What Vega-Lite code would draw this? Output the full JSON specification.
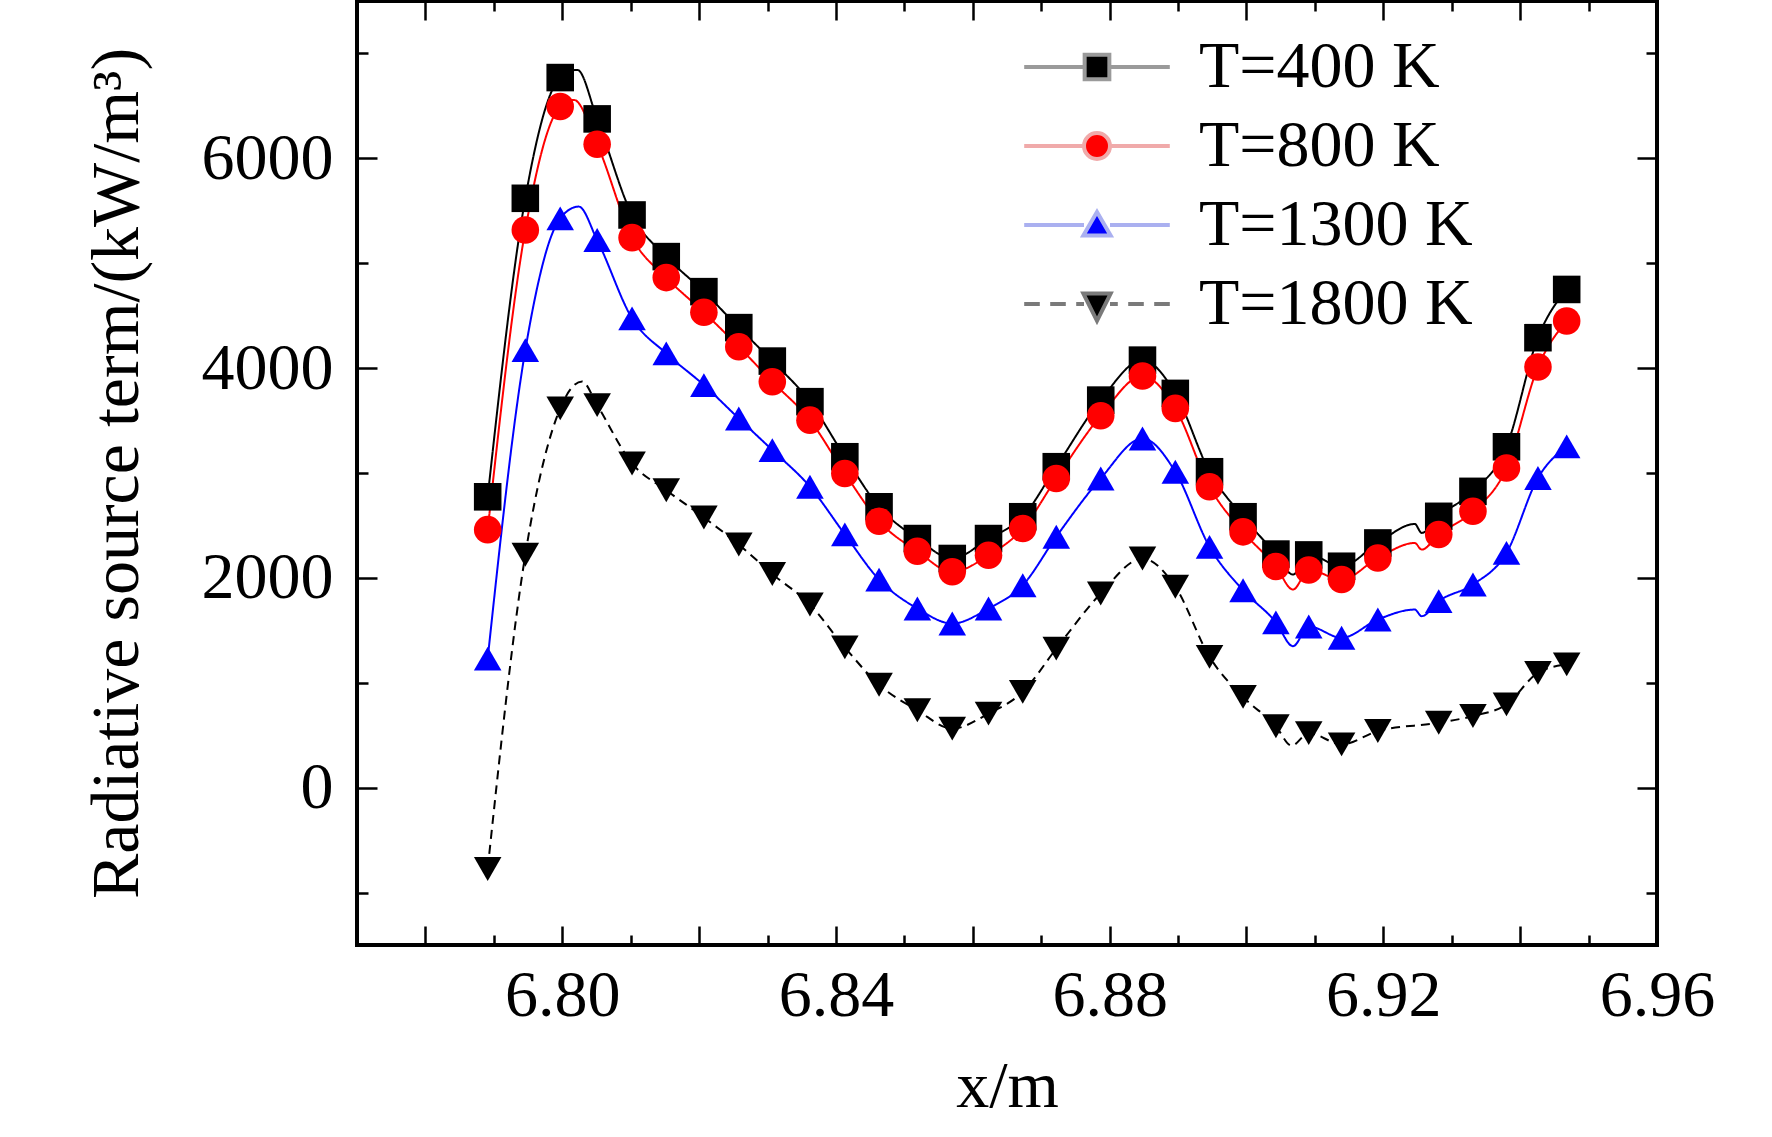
{
  "$schema": "https://vega.github.io/schema/vega-lite/v6.json",
  "width": 1300,
  "height": 944,
  "autosize": {"type": "none"},
  "padding": {"left": 357, "top": 1, "right": 115, "bottom": 192},
  "background": "white",
  "datasets": {
    "src": [
      {"s": "T=400 K", "x": 6.7891, "y": 2773, "k": "m"},
      {"s": "T=400 K", "x": 6.7946, "y": 5619, "k": "m"},
      {"s": "T=400 K", "x": 6.7997, "y": 6770, "k": "m"},
      {"s": "T=400 K", "x": 6.8022, "y": 6843, "k": "c"},
      {"s": "T=400 K", "x": 6.8051, "y": 6376, "k": "m"},
      {"s": "T=400 K", "x": 6.8102, "y": 5460, "k": "m"},
      {"s": "T=400 K", "x": 6.8152, "y": 5063, "k": "m"},
      {"s": "T=400 K", "x": 6.8207, "y": 4729, "k": "m"},
      {"s": "T=400 K", "x": 6.8258, "y": 4386, "k": "m"},
      {"s": "T=400 K", "x": 6.8307, "y": 4067, "k": "m"},
      {"s": "T=400 K", "x": 6.8362, "y": 3680, "k": "m"},
      {"s": "T=400 K", "x": 6.8413, "y": 3155, "k": "m"},
      {"s": "T=400 K", "x": 6.8463, "y": 2678, "k": "m"},
      {"s": "T=400 K", "x": 6.8519, "y": 2375, "k": "m"},
      {"s": "T=400 K", "x": 6.8570, "y": 2185, "k": "m"},
      {"s": "T=400 K", "x": 6.8623, "y": 2375, "k": "m"},
      {"s": "T=400 K", "x": 6.8673, "y": 2583, "k": "m"},
      {"s": "T=400 K", "x": 6.8722, "y": 3060, "k": "m"},
      {"s": "T=400 K", "x": 6.8787, "y": 3695, "k": "m"},
      {"s": "T=400 K", "x": 6.8848, "y": 4076, "k": "m"},
      {"s": "T=400 K", "x": 6.8896, "y": 3759, "k": "m"},
      {"s": "T=400 K", "x": 6.8946, "y": 3012, "k": "m"},
      {"s": "T=400 K", "x": 6.8995, "y": 2583, "k": "m"},
      {"s": "T=400 K", "x": 6.9043, "y": 2227, "k": "m"},
      {"s": "T=400 K", "x": 6.9068, "y": 2032, "k": "c"},
      {"s": "T=400 K", "x": 6.9091, "y": 2219, "k": "m"},
      {"s": "T=400 K", "x": 6.9139, "y": 2111, "k": "m"},
      {"s": "T=400 K", "x": 6.9192, "y": 2333, "k": "m"},
      {"s": "T=400 K", "x": 6.9246, "y": 2514, "k": "c"},
      {"s": "T=400 K", "x": 6.9256, "y": 2429, "k": "c"},
      {"s": "T=400 K", "x": 6.9281, "y": 2587, "k": "m"},
      {"s": "T=400 K", "x": 6.9331, "y": 2825, "k": "m"},
      {"s": "T=400 K", "x": 6.9380, "y": 3250, "k": "m"},
      {"s": "T=400 K", "x": 6.9426, "y": 4290, "k": "m"},
      {"s": "T=400 K", "x": 6.9468, "y": 4750, "k": "m"},

      {"s": "T=800 K", "x": 6.7891, "y": 2460, "k": "m"},
      {"s": "T=800 K", "x": 6.7946, "y": 5317, "k": "m"},
      {"s": "T=800 K", "x": 6.7997, "y": 6494, "k": "m"},
      {"s": "T=800 K", "x": 6.8017, "y": 6557, "k": "c"},
      {"s": "T=800 K", "x": 6.8051, "y": 6134, "k": "m"},
      {"s": "T=800 K", "x": 6.8102, "y": 5244, "k": "m"},
      {"s": "T=800 K", "x": 6.8152, "y": 4863, "k": "m"},
      {"s": "T=800 K", "x": 6.8207, "y": 4532, "k": "m"},
      {"s": "T=800 K", "x": 6.8258, "y": 4204, "k": "m"},
      {"s": "T=800 K", "x": 6.8307, "y": 3870, "k": "m"},
      {"s": "T=800 K", "x": 6.8362, "y": 3504, "k": "m"},
      {"s": "T=800 K", "x": 6.8413, "y": 2996, "k": "m"},
      {"s": "T=800 K", "x": 6.8463, "y": 2540, "k": "m"},
      {"s": "T=800 K", "x": 6.8519, "y": 2254, "k": "m"},
      {"s": "T=800 K", "x": 6.8570, "y": 2058, "k": "m"},
      {"s": "T=800 K", "x": 6.8623, "y": 2216, "k": "m"},
      {"s": "T=800 K", "x": 6.8673, "y": 2471, "k": "m"},
      {"s": "T=800 K", "x": 6.8722, "y": 2948, "k": "m"},
      {"s": "T=800 K", "x": 6.8787, "y": 3546, "k": "m"},
      {"s": "T=800 K", "x": 6.8848, "y": 3924, "k": "m"},
      {"s": "T=800 K", "x": 6.8896, "y": 3616, "k": "m"},
      {"s": "T=800 K", "x": 6.8946, "y": 2869, "k": "m"},
      {"s": "T=800 K", "x": 6.8995, "y": 2439, "k": "m"},
      {"s": "T=800 K", "x": 6.9043, "y": 2108, "k": "m"},
      {"s": "T=800 K", "x": 6.9068, "y": 1889, "k": "c"},
      {"s": "T=800 K", "x": 6.9091, "y": 2076, "k": "m"},
      {"s": "T=800 K", "x": 6.9139, "y": 1984, "k": "m"},
      {"s": "T=800 K", "x": 6.9192, "y": 2190, "k": "m"},
      {"s": "T=800 K", "x": 6.9246, "y": 2333, "k": "c"},
      {"s": "T=800 K", "x": 6.9256, "y": 2270, "k": "c"},
      {"s": "T=800 K", "x": 6.9281, "y": 2413, "k": "m"},
      {"s": "T=800 K", "x": 6.9331, "y": 2635, "k": "m"},
      {"s": "T=800 K", "x": 6.9380, "y": 3048, "k": "m"},
      {"s": "T=800 K", "x": 6.9426, "y": 4010, "k": "m"},
      {"s": "T=800 K", "x": 6.9468, "y": 4450, "k": "m"},

      {"s": "T=1300 K", "x": 6.7891, "y": 1230, "k": "m"},
      {"s": "T=1300 K", "x": 6.7946, "y": 4172, "k": "m"},
      {"s": "T=1300 K", "x": 6.7997, "y": 5428, "k": "m"},
      {"s": "T=1300 K", "x": 6.8024, "y": 5540, "k": "c"},
      {"s": "T=1300 K", "x": 6.8051, "y": 5221, "k": "m"},
      {"s": "T=1300 K", "x": 6.8102, "y": 4474, "k": "m"},
      {"s": "T=1300 K", "x": 6.8152, "y": 4140, "k": "m"},
      {"s": "T=1300 K", "x": 6.8207, "y": 3838, "k": "m"},
      {"s": "T=1300 K", "x": 6.8258, "y": 3520, "k": "m"},
      {"s": "T=1300 K", "x": 6.8307, "y": 3218, "k": "m"},
      {"s": "T=1300 K", "x": 6.8362, "y": 2869, "k": "m"},
      {"s": "T=1300 K", "x": 6.8413, "y": 2415, "k": "m"},
      {"s": "T=1300 K", "x": 6.8463, "y": 1984, "k": "m"},
      {"s": "T=1300 K", "x": 6.8519, "y": 1708, "k": "m"},
      {"s": "T=1300 K", "x": 6.8570, "y": 1565, "k": "m"},
      {"s": "T=1300 K", "x": 6.8623, "y": 1708, "k": "m"},
      {"s": "T=1300 K", "x": 6.8673, "y": 1930, "k": "m"},
      {"s": "T=1300 K", "x": 6.8722, "y": 2392, "k": "m"},
      {"s": "T=1300 K", "x": 6.8787, "y": 2948, "k": "m"},
      {"s": "T=1300 K", "x": 6.8848, "y": 3329, "k": "m"},
      {"s": "T=1300 K", "x": 6.8896, "y": 3012, "k": "m"},
      {"s": "T=1300 K", "x": 6.8946, "y": 2296, "k": "m"},
      {"s": "T=1300 K", "x": 6.8995, "y": 1882, "k": "m"},
      {"s": "T=1300 K", "x": 6.9043, "y": 1576, "k": "m"},
      {"s": "T=1300 K", "x": 6.9068, "y": 1349, "k": "c"},
      {"s": "T=1300 K", "x": 6.9091, "y": 1537, "k": "m"},
      {"s": "T=1300 K", "x": 6.9139, "y": 1429, "k": "m"},
      {"s": "T=1300 K", "x": 6.9192, "y": 1603, "k": "m"},
      {"s": "T=1300 K", "x": 6.9246, "y": 1698, "k": "c"},
      {"s": "T=1300 K", "x": 6.9256, "y": 1635, "k": "c"},
      {"s": "T=1300 K", "x": 6.9281, "y": 1778, "k": "m"},
      {"s": "T=1300 K", "x": 6.9331, "y": 1937, "k": "m"},
      {"s": "T=1300 K", "x": 6.9380, "y": 2238, "k": "m"},
      {"s": "T=1300 K", "x": 6.9426, "y": 2952, "k": "m"},
      {"s": "T=1300 K", "x": 6.9468, "y": 3254, "k": "m"},

      {"s": "T=1800 K", "x": 6.7891, "y": -775, "k": "m"},
      {"s": "T=1800 K", "x": 6.7946, "y": 2221, "k": "m"},
      {"s": "T=1800 K", "x": 6.7997, "y": 3616, "k": "m"},
      {"s": "T=1800 K", "x": 6.8029, "y": 3873, "k": "c"},
      {"s": "T=1800 K", "x": 6.8051, "y": 3647, "k": "m"},
      {"s": "T=1800 K", "x": 6.8102, "y": 3091, "k": "m"},
      {"s": "T=1800 K", "x": 6.8152, "y": 2836, "k": "m"},
      {"s": "T=1800 K", "x": 6.8207, "y": 2576, "k": "m"},
      {"s": "T=1800 K", "x": 6.8258, "y": 2318, "k": "m"},
      {"s": "T=1800 K", "x": 6.8307, "y": 2037, "k": "m"},
      {"s": "T=1800 K", "x": 6.8362, "y": 1746, "k": "m"},
      {"s": "T=1800 K", "x": 6.8413, "y": 1337, "k": "m"},
      {"s": "T=1800 K", "x": 6.8463, "y": 981, "k": "m"},
      {"s": "T=1800 K", "x": 6.8519, "y": 738, "k": "m"},
      {"s": "T=1800 K", "x": 6.8570, "y": 563, "k": "m"},
      {"s": "T=1800 K", "x": 6.8623, "y": 706, "k": "m"},
      {"s": "T=1800 K", "x": 6.8673, "y": 913, "k": "m"},
      {"s": "T=1800 K", "x": 6.8722, "y": 1326, "k": "m"},
      {"s": "T=1800 K", "x": 6.8787, "y": 1851, "k": "m"},
      {"s": "T=1800 K", "x": 6.8848, "y": 2185, "k": "m"},
      {"s": "T=1800 K", "x": 6.8896, "y": 1915, "k": "m"},
      {"s": "T=1800 K", "x": 6.8946, "y": 1247, "k": "m"},
      {"s": "T=1800 K", "x": 6.8995, "y": 865, "k": "m"},
      {"s": "T=1800 K", "x": 6.9043, "y": 585, "k": "m"},
      {"s": "T=1800 K", "x": 6.9066, "y": 400, "k": "c"},
      {"s": "T=1800 K", "x": 6.9091, "y": 520, "k": "m"},
      {"s": "T=1800 K", "x": 6.9139, "y": 413, "k": "m"},
      {"s": "T=1800 K", "x": 6.9192, "y": 540, "k": "m"},
      {"s": "T=1800 K", "x": 6.9281, "y": 619, "k": "m"},
      {"s": "T=1800 K", "x": 6.9331, "y": 683, "k": "m"},
      {"s": "T=1800 K", "x": 6.9380, "y": 794, "k": "m"},
      {"s": "T=1800 K", "x": 6.9426, "y": 1095, "k": "m"},
      {"s": "T=1800 K", "x": 6.9468, "y": 1175, "k": "m"}
    ]
  },
  "data": {"name": "src"},
  "resolve": {"axis": {"x": "independent", "y": "independent"}},
  "layer": [
    {
      "mark": {"type": "line", "interpolate": "monotone", "strokeWidth": 2},
      "encoding": {
        "x": {
          "field": "x", "type": "quantitative",
          "scale": {"domain": [6.77, 6.96], "nice": false, "zero": false},
          "axis": {"orient": "bottom", "values": [6.80, 6.84, 6.88, 6.92, 6.96], "format": ".2f",
                   "ticks": false, "labelPadding": 18, "labelFontSize": 66,
                   "title": "x/m", "titleFontSize": 66, "titlePadding": 26}
        },
        "y": {
          "field": "y", "type": "quantitative",
          "scale": {"domain": [-1500, 7500], "nice": false, "zero": false},
          "axis": {"orient": "left", "values": [0, 2000, 4000, 6000], "format": "d",
                   "ticks": false, "labelPadding": 24, "labelFontSize": 66,
                   "title": "Radiative source term/(kW/m³)", "titleFontSize": 68, "titlePadding": 50}
        },
        "stroke": {
          "field": "s", "type": "nominal",
          "scale": {"domain": ["T=1800 K", "T=1300 K", "T=800 K", "T=400 K"],
                    "range": ["#000000", "#0000ff", "#ff0000", "#000000"]},
          "legend": null
        },
        "strokeDash": {
          "field": "s", "type": "nominal",
          "scale": {"domain": ["T=1800 K", "T=1300 K", "T=800 K", "T=400 K"],
                    "range": [[9, 6], [1, 0], [1, 0], [1, 0]]},
          "legend": null
        }
      }
    },
    {
      "transform": [{"filter": "datum.k == 'm'"}],
      "mark": {"type": "point", "filled": true, "opacity": 1},
      "encoding": {
        "x": {
          "field": "x", "type": "quantitative",
          "scale": {"domain": [6.77, 6.96], "nice": false, "zero": false},
          "axis": {"orient": "bottom", "values": [6.78, 6.80, 6.82, 6.84, 6.86, 6.88, 6.90, 6.92, 6.94],
                   "labels": false, "ticks": true, "tickSize": -19, "title": null}
        },
        "y": {
          "field": "y", "type": "quantitative",
          "scale": {"domain": [-1500, 7500], "nice": false, "zero": false},
          "axis": {"orient": "left", "values": [0, 2000, 4000, 6000],
                   "labels": false, "ticks": true, "tickSize": -20, "title": null}
        },
        "color": {
          "field": "s", "type": "nominal",
          "scale": {"domain": ["T=400 K", "T=800 K", "T=1300 K", "T=1800 K"],
                    "range": ["#000000", "#ff0000", "#0000ff", "#000000"]},
          "legend": {
            "title": null, "orient": "none", "legendX": 707, "legendY": 33, "direction": "vertical",
            "padding": 0, "symbolSize": 676, "symbolStrokeWidth": 4, "labelOffset": 69, "rowPadding": 13,
            "labelFont": "Liberation Serif", "labelFontSize": 66, "labelColor": "black", "labelLimit": 0,
            "symbolType": {"expr": "datum.value == 'T=400 K' ? 'M-5.6,0H-0.95M0.95,0H5.6M-0.95,-0.95H0.95V0.95H-0.95Z' : datum.value == 'T=800 K' ? 'M-5.6,0H-1M1,0H5.6M1,0A1,1,0,1,1,-1,0A1,1,0,1,1,1,0Z' : datum.value == 'T=1300 K' ? 'M-5.6,0H-1M1,0H5.6M0,-1L1.05,0.8L-1.05,0.8Z' : 'M-5.6,0H-4.4M-3.6,0H-2.4M-1.6,0H-1M1,0H1.6M2.4,0H3.6M4.4,0H5.6M-1.05,-0.8L1.05,-0.8L0,1.3Z'"},
            "symbolStrokeColor": {"expr": "datum.value == 'T=400 K' ? '#9a9a9a' : datum.value == 'T=800 K' ? '#f0aaaa' : datum.value == 'T=1300 K' ? '#aab0f0' : '#7a7a7a'"}
          }
        },
        "shape": {
          "field": "s", "type": "nominal",
          "scale": {"domain": ["T=1800 K", "T=1300 K", "T=800 K", "T=400 K"],
                    "range": ["triangle-down", "triangle-up", "circle", "square"]},
          "legend": null
        },
        "size": {
          "field": "s", "type": "nominal",
          "scale": {"domain": ["T=1800 K", "T=1300 K", "T=800 K", "T=400 K"],
                    "range": [760, 760, 484, 484]},
          "legend": null
        }
      }
    },
    {
      "transform": [{"filter": "datum.k == 'm'"}],
      "mark": {"type": "point", "opacity": 0},
      "encoding": {
        "x": {
          "field": "x", "type": "quantitative",
          "scale": {"domain": [6.77, 6.96], "nice": false, "zero": false},
          "axis": {"orient": "bottom", "values": [6.79, 6.81, 6.83, 6.85, 6.87, 6.89, 6.91, 6.93, 6.95],
                   "labels": false, "ticks": true, "tickSize": -10, "title": null}
        },
        "y": {
          "field": "y", "type": "quantitative",
          "scale": {"domain": [-1500, 7500], "nice": false, "zero": false},
          "axis": {"orient": "left", "values": [-1000, 1000, 3000, 5000, 7000],
                   "labels": false, "ticks": true, "tickSize": -11, "title": null}
        }
      }
    },
    {
      "transform": [{"filter": "datum.k == 'm'"}],
      "mark": {"type": "point", "opacity": 0},
      "encoding": {
        "x": {
          "field": "x", "type": "quantitative",
          "scale": {"domain": [6.77, 6.96], "nice": false, "zero": false},
          "axis": {"orient": "top", "values": [6.78, 6.80, 6.82, 6.84, 6.86, 6.88, 6.90, 6.92, 6.94],
                   "labels": false, "ticks": true, "tickSize": -19, "title": null}
        },
        "y": {
          "field": "y", "type": "quantitative",
          "scale": {"domain": [-1500, 7500], "nice": false, "zero": false},
          "axis": {"orient": "right", "values": [0, 2000, 4000, 6000],
                   "labels": false, "ticks": true, "tickSize": -20, "title": null}
        }
      }
    },
    {
      "transform": [{"filter": "datum.k == 'm'"}],
      "mark": {"type": "point", "opacity": 0},
      "encoding": {
        "x": {
          "field": "x", "type": "quantitative",
          "scale": {"domain": [6.77, 6.96], "nice": false, "zero": false},
          "axis": {"orient": "top", "values": [6.79, 6.81, 6.83, 6.85, 6.87, 6.89, 6.91, 6.93, 6.95],
                   "labels": false, "ticks": true, "tickSize": -10, "title": null}
        },
        "y": {
          "field": "y", "type": "quantitative",
          "scale": {"domain": [-1500, 7500], "nice": false, "zero": false},
          "axis": {"orient": "right", "values": [-1000, 1000, 3000, 5000, 7000],
                   "labels": false, "ticks": true, "tickSize": -11, "title": null}
        }
      }
    }
  ],
  "config": {
    "view": {"stroke": "#000000", "strokeWidth": 4},
    "font": "Liberation Serif",
    "axis": {
      "domain": false, "grid": false,
      "labelFont": "Liberation Serif", "labelColor": "#000000",
      "titleFont": "Liberation Serif", "titleColor": "#000000", "titleFontWeight": "normal",
      "tickColor": "#000000", "tickWidth": 2.5,
      "labelFlush": false, "labelOverlap": false
    }
  }
}
